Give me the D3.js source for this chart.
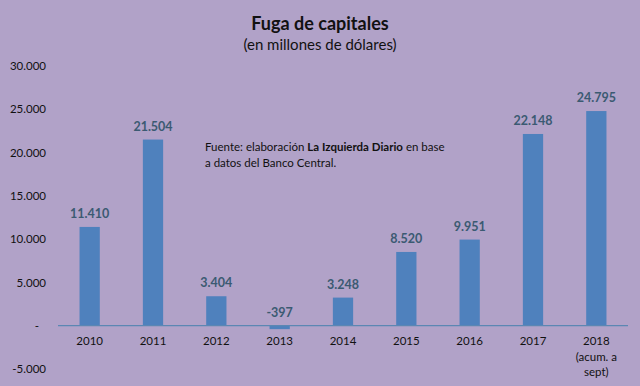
<!DOCTYPE html>
<html>
<head>
<meta charset="utf-8">
<script src="https://cdn.jsdelivr.net/npm/d3@7"></script>
<style>
  body { margin: 0; background: #b1a2c8; }
  svg { display: block; font-family: Lato, "Open Sans", sans-serif; }
</style>
</head>
<body>
<svg width="640" height="386"></svg>
<script>
var years = ["2010", "2011", "2012", "2013", "2014", "2015", "2016", "2017", "2018"];
var yearNotes = ["", "", "", "", "", "", "", "", "(acum. a|sept)"];
var fuga = [11410, 21504, 3404, -397, 3248, 8520, 9951, 22148, 24795];
var yTicks = [-5000, 0, 5000, 10000, 15000, 20000, 25000, 30000];

var svg = d3.select("svg"),
    width = +svg.attr("width"),
    height = +svg.attr("height");

svg.append("rect").attr("width", width).attr("height", height).attr("fill", "#b1a2c8");

// excel style: dot thousands, plain hyphen, "-" for zero
var fmt = function(v) {
  if (v === 0) return "-";
  return d3.format(",")(v).replace(/,/g, ".").replace("\u2212", "-");
};

var x = d3.scaleBand().domain(years).range([58, 628]).paddingInner(0.68).paddingOuter(0.34);
var y = d3.scaleLinear().domain([-5000, 30000]).range([369, 66]);

// title
svg.append("text").attr("x", 320).attr("y", 30).attr("text-anchor", "middle")
    .attr("font-size", 18).attr("font-weight", "bold").attr("fill", "#111")
    .text("Fuga de capitales");
svg.append("text").attr("x", 320).attr("y", 50).attr("text-anchor", "middle")
    .attr("font-size", 15).attr("fill", "#111")
    .text("(en millones de dólares)");

// y axis labels (no line)
var yAxis = svg.append("g").attr("transform", "translate(46,0)")
    .call(d3.axisLeft(y).tickValues(yTicks).tickSize(0).tickPadding(0).tickFormat(fmt));
yAxis.select(".domain").remove();
yAxis.selectAll("text").attr("font-size", 11.5).attr("fill", "#111")
    .attr("font-family", "Lato, 'Open Sans', sans-serif")
    .attr("dx", function(d) { return d === 0 ? -7 : 0; });

// bars
svg.selectAll(".bar")
    .data(fuga)
  .enter().append("rect")
    .attr("class", "bar")
    .attr("x", function(d, i) { return x(years[i]); })
    .attr("width", x.bandwidth())
    .attr("y", function(d) { return y(Math.max(0, d)); })
    .attr("height", function(d) { return Math.abs(y(d) - y(0)); })
    .attr("fill", "#4f81bd");

// zero line
svg.append("line")
    .attr("x1", 58).attr("x2", 628)
    .attr("y1", y(0)).attr("y2", y(0))
    .attr("stroke", "#5b87b3").attr("stroke-width", 1.2);

// value labels
svg.selectAll(".val")
    .data(fuga)
  .enter().append("text")
    .attr("class", "val")
    .attr("x", function(d, i) { return x(years[i]) + x.bandwidth() / 2; })
    .attr("y", function(d) { return y(Math.max(0, d)) - 9; })
    .attr("text-anchor", "middle")
    .attr("font-size", 12.5).attr("font-weight", "bold").attr("fill", "#3b5a72")
    .text(fmt);

// x labels
var xl = svg.selectAll(".xl")
    .data(years)
  .enter().append("text")
    .attr("class", "xl")
    .attr("text-anchor", "middle")
    .attr("font-size", 11.5).attr("fill", "#111")
    .attr("x", function(d) { return x(d) + x.bandwidth() / 2; })
    .attr("y", 345);
xl.append("tspan").text(function(d) { return d; });
xl.each(function(d, i) {
  var t = d3.select(this), cx = x(d) + x.bandwidth() / 2;
  if (!yearNotes[i]) return;
  yearNotes[i].split("|").forEach(function(s) {
    t.append("tspan").attr("x", cx).attr("dy", 15.5).text(s);
  });
});

// source note
var note = svg.append("text").attr("x", 205).attr("y", 151)
    .attr("font-size", 11.5).attr("fill", "#111");
note.append("tspan").text("Fuente: elaboración ");
note.append("tspan").attr("font-weight", "bold").text("La Izquierda Diario");
note.append("tspan").text(" en base");
note.append("tspan").attr("x", 205).attr("dy", 16).text("a datos del Banco Central.");
</script>
</body>
</html>
